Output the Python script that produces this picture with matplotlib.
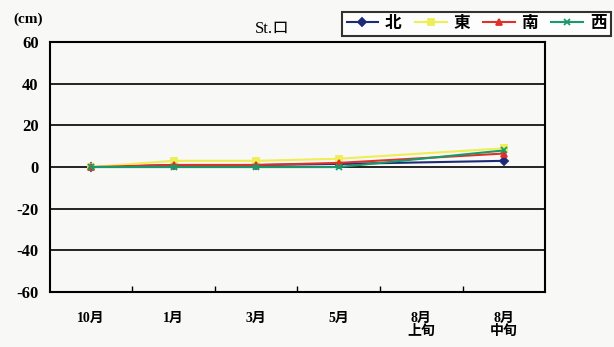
import numpy as np
import matplotlib.pyplot as plt

plt.rcParams['font.family'] = ['Liberation Serif', 'Noto Sans CJK JP']

months = ['10月', '1月', '3月', '5月', '8月\n上旬', '8月\n中旬']
north = [0, 1, 1, 1.5, np.nan, 3]
east = [0, 3, 3, 4, np.nan, 9]
south = [0, 1, 1, 2, np.nan, 6.5]
west = [0, 0, 0, 0, np.nan, 8]

series = [
    ('北', north, '#1c2a78', 'D'),
    ('東', east, '#eeee55', 's'),
    ('南', south, '#e0302a', '^'),
    ('西', west, '#1a9a6a', 'x'),
]

fig = plt.figure(figsize=(6.14, 3.47), dpi=100, facecolor='#f8f8f6')
ax = fig.add_axes([0.081, 0.158, 0.807, 0.721])
ax.set_facecolor('#f8f8f6')

x = np.arange(len(months))
for name, vals, color, mk in series:
    v = np.array(vals, dtype=float)
    ok = ~np.isnan(v)
    ax.plot(x[ok], v[ok], color=color, marker=mk, markersize=4.5,
            linewidth=1.5, label=name, markeredgewidth=1.3)

ax.set_xlim(-0.5, len(months) - 0.5)
ax.set_ylim(-60, 60)
ax.set_yticks(range(-60, 61, 20))
ax.yaxis.grid(True, color='black', linewidth=1.2)
ax.tick_params(axis='y', length=0, labelsize=12, pad=8)
ax.set_yticklabels([str(t) for t in range(-60, 61, 20)], fontweight='bold')

ax.set_xticks(np.arange(len(months) - 1) + 0.5, minor=True)
ax.set_xticks(x)
ax.set_xticklabels(months, fontsize=10, fontweight='bold', linespacing=1.0)
ax.tick_params(axis='x', which='major', length=0, pad=14)
ax.tick_params(axis='x', which='minor', direction='in', length=4, width=1)
for s in ax.spines.values():
    s.set_linewidth(1.5)

fig.text(0.022, 0.935, '(cm)', fontsize=11, fontweight='bold')
fig.text(0.415, 0.905, 'St.ロ', fontsize=12)

leg = fig.legend(loc='upper right', bbox_to_anchor=(1.008, 0.99), ncol=4,
                 frameon=True, fancybox=False, edgecolor='black',
                 handlelength=1.9, columnspacing=0.8, handletextpad=0.4,
                 borderpad=0.25, prop={'weight': 'bold', 'size': 12})
leg.get_frame().set_linewidth(1.5)
leg.get_frame().set_facecolor('white')

fig.savefig('out.png', dpi=100, facecolor=fig.get_facecolor())
